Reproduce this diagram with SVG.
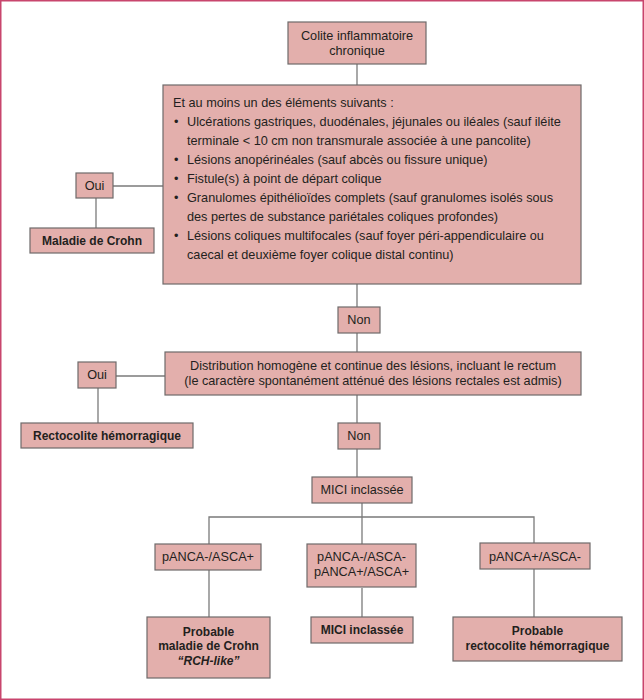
<svg xmlns="http://www.w3.org/2000/svg" width="644" height="700" viewBox="0 0 644 700">
<style>
.box{fill:#e3afac;stroke:#6e6a6a;stroke-width:1.2}
.ln{stroke:#7a7a7a;stroke-width:1.3;fill:none}
text{font-family:"Liberation Sans",Arial,sans-serif;font-size:12.7px;fill:#231f20}
.c{text-anchor:middle}
.b{font-weight:bold;font-size:12px}
.i{font-style:italic}
</style>
<rect x="0.75" y="0.75" width="642.5" height="698.5" fill="#ffffff" stroke="#c8456d" stroke-width="1.5"/>
<g id="connectors">
<line class="ln" x1="357" y1="64" x2="357" y2="85"/>
<line class="ln" x1="113" y1="186" x2="163" y2="186"/>
<line class="ln" x1="96" y1="198" x2="96" y2="228"/>
<line class="ln" x1="357" y1="284" x2="357" y2="307"/>
<line class="ln" x1="357" y1="333" x2="357" y2="352"/>
<line class="ln" x1="116" y1="376" x2="165" y2="376"/>
<line class="ln" x1="98" y1="388" x2="98" y2="423"/>
<line class="ln" x1="357" y1="395" x2="357" y2="423"/>
<line class="ln" x1="357" y1="449" x2="357" y2="477"/>
<line class="ln" x1="362" y1="503" x2="362" y2="544"/>
<polyline class="ln" points="209,544 209,517 534,517 534,543"/>
<line class="ln" x1="209" y1="570" x2="209" y2="617"/>
<line class="ln" x1="362" y1="588" x2="362" y2="617"/>
<line class="ln" x1="534" y1="569" x2="534" y2="617"/>
</g>
<g id="n-colite">
<rect class="box" x="288" y="22" width="138" height="42"/>
<text class="c" x="357" y="40">Colite inflammatoire</text>
<text class="c" x="357" y="55">chronique</text>
</g>
<g id="n-criteres">
<rect class="box" x="163" y="85" width="418" height="199"/>
<text x="173" y="107">Et au moins un des éléments suivants :</text>
<text x="174" y="126">•</text><text x="187" y="126">Ulcérations gastriques, duodénales, jéjunales ou iléales (sauf iléite</text>
<text x="187" y="145">terminale &lt; 10 cm non transmurale associée à une pancolite)</text>
<text x="174" y="164">•</text><text x="187" y="164">Lésions anopérinéales (sauf abcès ou fissure unique)</text>
<text x="174" y="183">•</text><text x="187" y="183">Fistule(s) à point de départ colique</text>
<text x="174" y="202">•</text><text x="187" y="202">Granulomes épithélioïdes complets (sauf granulomes isolés sous</text>
<text x="187" y="221">des pertes de substance pariétales coliques profondes)</text>
<text x="174" y="240">•</text><text x="187" y="240">Lésions coliques multifocales (sauf foyer péri-appendiculaire ou</text>
<text x="187" y="259">caecal et deuxième foyer colique distal continu)</text>
</g>
<g id="n-oui1">
<rect class="box" x="76" y="173" width="37" height="25"/>
<text class="c" x="94.5" y="190">Oui</text>
</g>
<g id="n-crohn">
<rect class="box" x="30" y="228" width="124" height="25"/>
<text class="c b" x="92" y="245">Maladie de Crohn</text>
</g>
<g id="n-non1">
<rect class="box" x="338" y="307" width="42" height="26"/>
<text class="c" x="359" y="324">Non</text>
</g>
<g id="n-distribution">
<rect class="box" x="165" y="352" width="416" height="43"/>
<text class="c" x="373" y="370">Distribution homogène et continue des lésions, incluant le rectum</text>
<text class="c" x="373" y="385">(le caractère spontanément atténué des lésions rectales est admis)</text>
</g>
<g id="n-oui2">
<rect class="box" x="78" y="362" width="38" height="26"/>
<text class="c" x="97" y="379">Oui</text>
</g>
<g id="n-rch">
<rect class="box" x="21" y="423" width="172" height="25"/>
<text class="c b" x="107" y="440">Rectocolite hémorragique</text>
</g>
<g id="n-non2">
<rect class="box" x="338" y="423" width="42" height="26"/>
<text class="c" x="359" y="440">Non</text>
</g>
<g id="n-mici">
<rect class="box" x="312" y="477" width="100" height="26"/>
<text class="c" x="362" y="494">MICI inclassée</text>
</g>
<g id="n-panca1">
<rect class="box" x="155" y="544" width="106" height="26"/>
<text class="c" x="208" y="561">pANCA-/ASCA+</text>
</g>
<g id="n-panca2">
<rect class="box" x="307" y="544" width="109" height="43"/>
<text class="c" x="361.5" y="561">pANCA-/ASCA-</text>
<text class="c" x="361.5" y="576">pANCA+/ASCA+</text>
</g>
<g id="n-panca3">
<rect class="box" x="480" y="543" width="110" height="26"/>
<text class="c" x="535" y="561">pANCA+/ASCA-</text>
</g>
<g id="n-probcrohn">
<rect class="box" x="147" y="617" width="123" height="61"/>
<text class="c b" x="208.5" y="636">Probable</text>
<text class="c b" x="208.5" y="650">maladie de Crohn</text>
<text class="c b i" x="208.5" y="665">“RCH-like”</text>
</g>
<g id="n-mici2">
<rect class="box" x="311" y="617" width="102" height="26"/>
<text class="c b" x="362" y="634">MICI inclassée</text>
</g>
<g id="n-probrch">
<rect class="box" x="453" y="617" width="169" height="44"/>
<text class="c b" x="537.5" y="635">Probable</text>
<text class="c b" x="537.5" y="650">rectocolite hémorragique</text>
</g>
</svg>
